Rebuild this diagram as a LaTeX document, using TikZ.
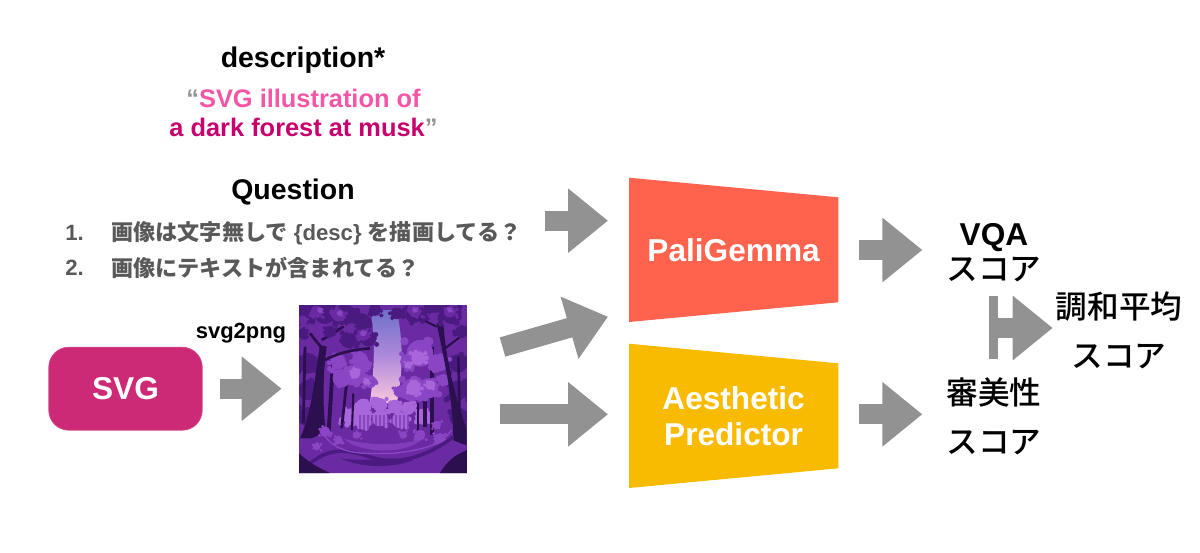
\documentclass[tikz,border=0pt]{standalone}
\usepackage{fontspec}
\setmainfont{Liberation Sans}
\newfontfamily\cjk{Noto Sans CJK JP Medium}
\usetikzlibrary{arrows.meta}
\definecolor{arrowgray}{HTML}{929292}
\definecolor{textgray}{HTML}{595959}
\definecolor{svgpink}{HTML}{CC2A77}
\definecolor{palired}{HTML}{FF624D}
\definecolor{aesyellow}{HTML}{F9BB00}
\definecolor{quotepink}{HTML}{F555A5}
\definecolor{quotedeep}{HTML}{C8006E}
\definecolor{forestdark}{HTML}{2B0F4E}
\definecolor{forestdeep}{HTML}{4A1A80}
\definecolor{forestmid}{HTML}{6A2AA2}
\definecolor{forestleaf}{HTML}{8A45C4}
\definecolor{forestlight}{HTML}{A766DA}
\definecolor{skytop}{HTML}{6E70C8}
\definecolor{skymid}{HTML}{B08ADC}
\definecolor{skylow}{HTML}{FAC8DC}
\newcommand{\leafclump}[4]{%
    \fill[#4] (#1,#2) circle ({#3*0.8});
    \foreach \n in {1,...,14} {
        \pgfmathsetmacro\dx{#3*(2*rnd-1)}
        \pgfmathsetmacro\dy{#3*0.8*(2*rnd-1)}
        \fill[#4] (#1+\dx,#2+\dy) circle ({#3*0.25});
    }
}
\tikzset{
    heading/.style = {font=\fontsize{16.2}{19}\selectfont\bfseries},
    quoteline/.style = {font=\fontsize{14.45}{17}\selectfont\bfseries},
    qline/.style = {anchor=west, inner sep=0pt, text=textgray, font=\fontsize{12.6}{15}\selectfont\bfseries},
    modeltext/.style = {text=white, align=center, font=\fontsize{18}{20.5}\selectfont\bfseries,
        minimum width=4.186cm, minimum height=2.89cm, inner sep=0pt},
    score/.style = {align=center, font=\fontsize{18}{28}\selectfont\cjk},
    blockarrow/.style = {draw=arrowgray, line width=0.4cm,
        -{Triangle[length=0.8cm,width=1.24cm,fill=arrowgray]}},
}
\begin{document}
\begin{tikzpicture}[x=0.02cm, y=-0.02cm]
\useasboundingbox (0,0) rectangle (1200,552);

% Prompt and questions
\node[heading] (desc) at (303,60) {description*};
\node[quoteline] (quote1) at (303.5,98) {\textcolor{arrowgray}{“}\textcolor{quotepink}{SVG illustration of}};
\node[quoteline] (quote2) at (303.5,127) {\textcolor{quotedeep}{a dark forest at musk}\textcolor{arrowgray}{”}};
\node[heading] (question) at (293,192) {Question};
\node[qline] (num1) at (65,233) {1.};
\node[qline] (num2) at (65,268) {2.};
\node[qline] (q1) at (111,233) {{\cjk 画像は文字無しで} \{desc\} {\cjk を描画してる？}};
\node[qline] (q2) at (111,268) {\cjk 画像にテキストが含まれてる？};

% SVG box
\node[draw=svgpink!85!white, fill=svgpink, rounded corners=0.4cm, minimum width=3.07cm, minimum height=1.66cm,
    text=white, font=\fontsize{18}{20}\selectfont\bfseries] (svg) at (125.5,388.7) {SVG};
\node[font=\fontsize{12.5}{15}\selectfont\bfseries] (convert) at (241,333) {svg2png};

% Forest picture
\node[minimum width=3.354cm, minimum height=3.36cm, inner sep=0pt] (forest) at (382.8,388.7) {};
\begin{scope}[shift={(280,290)}, x=0.0066667cm, y=-0.0066667cm]
    \pgfmathsetseed{11}
    \clip (57,45) rectangle (561,549);
    \fill[forestmid] (57,45) rectangle (561,549);
    \shade[top color=skytop, bottom color=skylow, middle color=skymid]
        (270,60) .. controls (290,150) and (280,250) .. (270,340) -- (350,340)
        .. controls (370,250) and (370,150) .. (350,60) -- cycle;
    % far trees
    \foreach \x/\y/\r in {250/350/30, 300/345/26, 345/350/26, 385/355/24, 215/380/32, 430/380/30, 300/385/30, 360/390/30, 250/395/30} {
        \leafclump{\x}{\y}{\r}{forestlight}
    }
    \foreach \x in {240,252,...,400} {
        \draw[forestmid, opacity=0.5, line width=0.7pt] (\x,375) -- (\x,425);
    }
    % side shade
    \foreach \x/\y/\r in {85/220/38, 85/300/38, 85/380/36, 535/220/34, 535/300/36, 535/380/34} {
        \leafclump{\x}{\y}{\r}{forestdeep}
    }
    % thin trunks
    \foreach \xa/\ya/\xb/\yb/\w in {160/200/145/440/2.2, 205/230/185/415/1.6, 220/310/216/420/1.2, 455/170/455/455/2.2,
        415/340/415/425/1.2, 435/320/435/410/1.8, 535/200/540/420/1.4, 75/170/70/400/1.6} {
        \draw[forestdark, line width=\w pt] (\xa,\ya) -- (\xb,\yb);
    }
    % mid foliage
    \foreach \x/\y/\r in {420/190/50, 480/220/30, 385/215/30, 395/300/42, 445/295/38, 360/305/22, 490/270/22,
        225/255/40, 270/275/24, 185/265/34, 240/210/30, 175/215/28} {
        \leafclump{\x}{\y}{\r}{forestleaf}
    }
    \foreach \x/\y/\r in {415/205/26, 400/295/26, 450/285/18, 225/250/20, 385/225/14, 260/275/12} {
        \leafclump{\x}{\y}{\r}{forestlight}
    }
    % big trunks
    \fill[forestdark] (60,445) .. controls (95,370) and (105,260) .. (120,165) -- (140,170)
        .. controls (125,280) and (130,380) .. (140,445) -- cycle;
    \fill[forestdark] (470,100) -- (490,100) .. controls (500,230) and (530,330) .. (560,420) -- (560,465) -- (520,455)
        .. controls (520,320) and (490,200) .. (470,100) -- cycle;
    \draw[forestdark, line width=1.5pt] (125,215) .. controls (170,190) and (210,180) .. (270,175);
    \draw[forestdark, line width=1.5pt] (130,180) -- (90,130);
    \draw[forestdark, line width=1.5pt] (125,150) .. controls (160,130) and (190,110) .. (220,90);
    \draw[forestdark, line width=1.2pt] (495,175) -- (555,130);
    \draw[forestdark, line width=1.2pt] (470,110) -- (400,75);
    % crown foliage
    \foreach \x/\y/\r in {75/70/40, 135/70/40, 195/75/40, 245/95/32, 265/145/30, 205/150/30, 150/125/22, 285/60/22,
        350/70/22, 400/75/30, 455/65/32, 515/75/34, 545/125/24, 70/130/20} {
        \leafclump{\x}{\y}{\r}{forestdeep}
    }
    \foreach \x/\y/\r in {110/65/22, 175/75/24, 250/135/22, 70/90/16, 210/115/18, 405/65/22, 510/65/22, 460/80/16} {
        \leafclump{\x}{\y}{\r}{forestmid}
    }
    \foreach \x/\y/\r in {120/60/10, 180/70/10, 250/130/10, 405/60/9, 510/60/9} {
        \leafclump{\x}{\y}{\r}{forestleaf}
    }
    % ground
    \fill[forestmid] (57,549) -- (57,470) .. controls (130,410) and (200,425) .. (300,430)
        .. controls (400,435) and (470,420) .. (561,470) -- (561,549) -- cycle;
    \foreach \x/\y/\r in {135/425/20, 175/450/16, 420/435/20, 480/445/20, 470/405/16, 110/470/14, 230/435/14, 370/435/14} {
        \leafclump{\x}{\y}{\r}{forestleaf}
    }
    \fill[forestleaf!70!forestmid] (190,445) .. controls (270,470) and (350,465) .. (420,450)
        .. controls (390,490) and (240,495) .. (190,445) -- cycle;
    \draw[forestdeep, line width=2pt] (90,520) .. controls (180,450) and (240,500) .. (310,510)
        .. controls (390,520) and (470,480) .. (520,440);
    \draw[forestleaf, line width=0.8pt] (130,430) .. controls (170,500) and (260,490) .. (340,490)
        .. controls (420,480) and (480,470) .. (515,420);
    \fill[forestdeep] (180,505) .. controls (260,540) and (350,530) .. (400,510)
        .. controls (330,505) and (240,515) .. (180,505) -- cycle;
    \fill[forestdark] (57,490) .. controls (90,520) and (110,530) .. (150,549) -- (57,549) -- cycle;
    \fill[forestdark] (480,549) .. controls (510,500) and (540,490) .. (561,480) -- (561,549) -- cycle;
\end{scope}

% Models
\fill[palired] (629,177.7) -- (838.3,197.3) -- (838.3,302.3) -- (629,322) -- cycle;
\fill[aesyellow] (629,343.7) -- (838.3,363.3) -- (838.3,468.3) -- (629,488) -- cycle;
\node[modeltext] (pali) at (733.6,250) {PaliGemma};
\node[modeltext] (aes) at (733.6,416) {Aesthetic\\Predictor};

% Scores
\node[score] (vqa) at (994,252.5) {{\fontsize{18}{22}\selectfont\rmfamily\bfseries VQA}\\[-7.7pt]スコア};
\node[score] (aesscore) at (994,416) {審美性\\スコア};
\node[score] (mean) at (1119,330) {調和平均\\スコア};

% Arrows
\coordinate (qOut) at (545,220.7);
\coordinate (paliIn) at (608,220.7);
\coordinate (forestOutA) at (502.5,347);
\coordinate (paliInB) at (608,316.7);
\coordinate (forestOutB) at (499.7,414.3);
\coordinate (aesIn) at (608,414.3);
\coordinate (barTop) at (993.8,296);
\coordinate (barBottom) at (993.8,359.3);
\coordinate (barMid) at (993.8,328);
\coordinate (meanIn) at (1052.7,328);
\draw[blockarrow] (qOut) -- (paliIn);
\draw[blockarrow] (forestOutA) -- (paliInB);
\draw[blockarrow] (forestOutB) -- (aesIn);
\draw[blockarrow, shorten <=0.34cm, shorten >=0.34cm] (svg) -- (forest);
\draw[blockarrow, shorten <=0.414cm, shorten >=0.36cm] (pali.east) -- (vqa.west |- pali.east);
\draw[blockarrow, shorten <=0.414cm, shorten >=0.36cm] (aes.east |- aesIn) -- (aesscore.west |- aesIn);
\draw[arrowgray, line width=0.18cm] (barTop) -- (barBottom);
\draw[blockarrow] (barMid) -- (meanIn);
\end{tikzpicture}
\end{document}
